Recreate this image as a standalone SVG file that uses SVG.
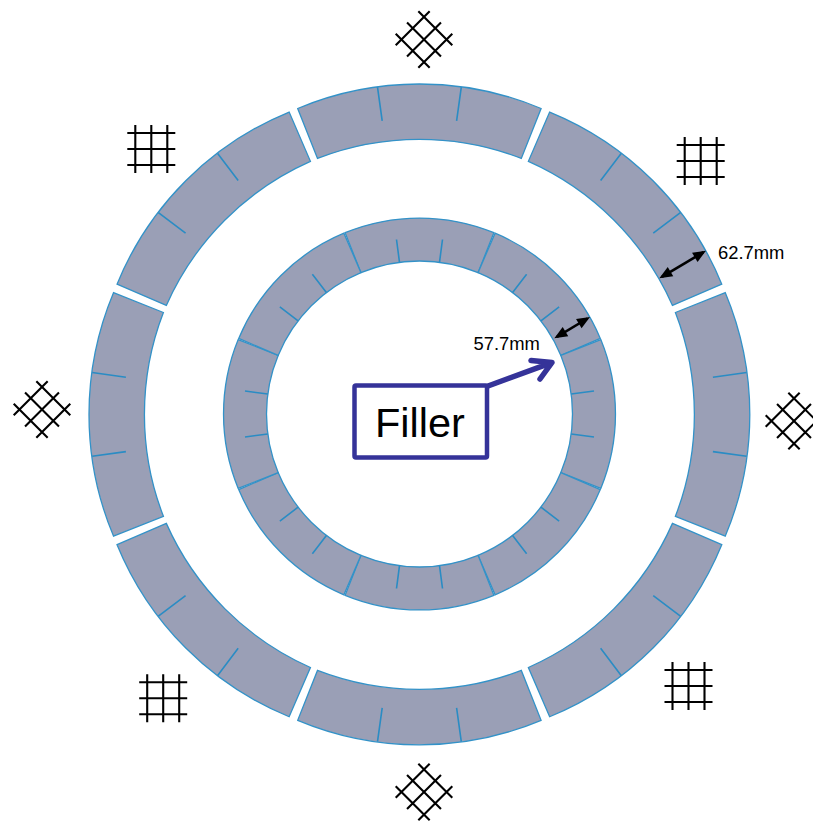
<svg xmlns="http://www.w3.org/2000/svg" xmlns:xlink="http://www.w3.org/1999/xlink" width="813" height="822" viewBox="0 0 813 822">
<style>
.seg{fill:#9a9fb6;stroke:#3392c8;stroke-width:1.3}
.tick{fill:none;stroke:#2a8cc4;stroke-width:1.6}
.grid{fill:none;stroke:#000;stroke-width:2.1}
.lbl{font-family:"Liberation Sans",Arial,sans-serif;fill:#000}
.dim{stroke:#000;stroke-width:2.6;fill:none;marker-start:url(#dimHead);marker-end:url(#dimHead)}
</style>
<defs>
<marker id="dimHead" markerUnits="userSpaceOnUse" markerWidth="17" markerHeight="14" viewBox="0 0 17 14" refX="11.5" refY="7" orient="auto-start-reverse"><path d="M1.5 1.6L14.5 7L1.5 12.4Z" fill="#000"/></marker>
<g id="outerSeg"><path class="seg" d="M-121.7 -305.9A314.5 314.5 0 0 1 121.7 -305.9L101.9 -256A283 283 0 0 0 -101.9 -256Z"/><path class="tick" d="M-41.9 -327.2L-37.2 -293.5M41.9 -327.2L37.2 -293.5"/></g>
<g id="innerSeg"><path class="seg" d="M-74.4 -181.3A196 196 0 0 1 74.4 -181.3L58.55 -141.35A153 153 0 0 0 -58.55 -141.35Z"/><path class="tick" d="M-20 -151.7L-23 -174.5M20 -151.7L23 -174.5"/></g>
<g id="mesh"><path class="grid" d="M-16 -24V24M0 -24V24M16 -24V24M-24 -16H24M-24 0H24M-24 16H24"/></g>
</defs>
<rect width="813" height="822" fill="#fff"/>
<g id="outer-ring" transform="translate(419.4 414.4)">
<use href="#outerSeg"/><use href="#outerSeg" transform="rotate(45)"/><use href="#outerSeg" transform="rotate(90)"/><use href="#outerSeg" transform="rotate(135)"/><use href="#outerSeg" transform="rotate(180)"/><use href="#outerSeg" transform="rotate(225)"/><use href="#outerSeg" transform="rotate(270)"/><use href="#outerSeg" transform="rotate(315)"/>
</g>
<g id="inner-ring" transform="translate(419.5 414)">
<use href="#innerSeg"/><use href="#innerSeg" transform="rotate(45)"/><use href="#innerSeg" transform="rotate(90)"/><use href="#innerSeg" transform="rotate(135)"/><use href="#innerSeg" transform="rotate(180)"/><use href="#innerSeg" transform="rotate(225)"/><use href="#innerSeg" transform="rotate(270)"/><use href="#innerSeg" transform="rotate(315)"/>
</g>
<g id="mesh-top"><use href="#mesh" transform="translate(424 39.5) rotate(45)"/></g>
<g id="mesh-top-right"><use href="#mesh" transform="translate(700.7 161)"/></g>
<g id="mesh-right"><use href="#mesh" transform="translate(794 421) rotate(45)"/></g>
<g id="mesh-bottom-right"><use href="#mesh" transform="translate(688.5 686)"/></g>
<g id="mesh-bottom"><use href="#mesh" transform="translate(424 792) rotate(45)"/></g>
<g id="mesh-bottom-left"><use href="#mesh" transform="translate(163.2 698.3)"/></g>
<g id="mesh-left"><use href="#mesh" transform="translate(42 409.5) rotate(45)"/></g>
<g id="mesh-top-left"><use href="#mesh" transform="translate(151.3 149)"/></g>
<g id="filler">
<rect x="354.5" y="385.5" width="132.5" height="72" rx="1.5" fill="#fff" stroke="#353399" stroke-width="4.5" stroke-linejoin="round"/>
<text class="lbl" x="375" y="437" font-size="41.5">Filler</text>
</g>
<g id="connectors">
<path d="M488 386L551 362.8M531 360.5L552 362.5L540 379" fill="none" stroke="#353399" stroke-width="5.5" stroke-linecap="round" stroke-linejoin="round"/>
<line class="dim" x1="661.9" y1="276.8" x2="703.4" y2="252.2"/>
<line class="dim" x1="556.9" y1="336.8" x2="587.4" y2="318.5"/>
</g>
<g id="dim-labels">
<text class="lbl" x="718" y="259" font-size="18.4">62.7mm</text>
<text class="lbl" x="473.5" y="350" font-size="18.4">57.7mm</text>
</g>
</svg>
